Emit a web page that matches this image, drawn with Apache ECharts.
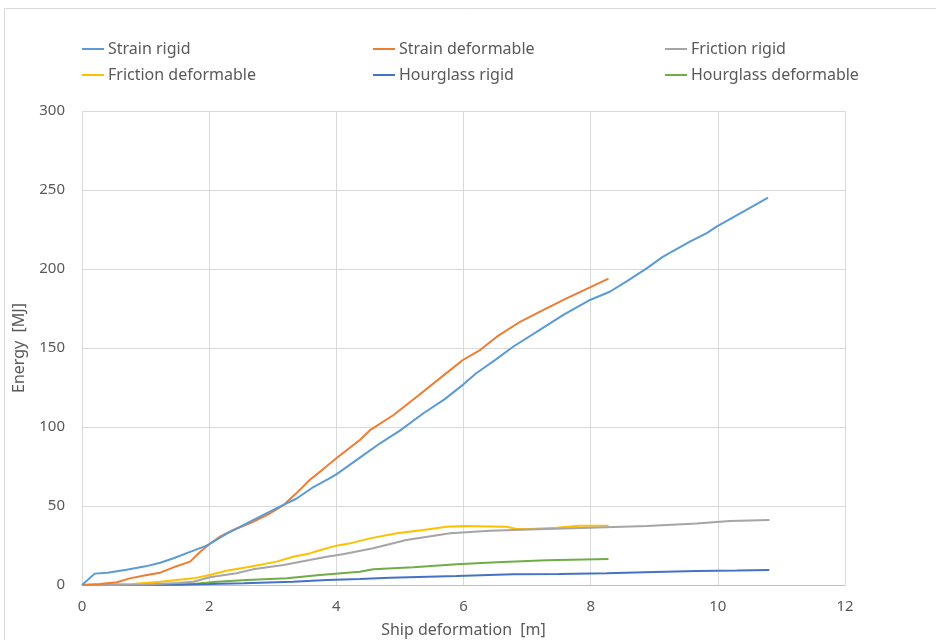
<!DOCTYPE html>
<html>
<head>
<meta charset="utf-8">
<script src="https://cdn.jsdelivr.net/npm/echarts@6/dist/echarts.min.js"></script>
<style>
  html, body { margin: 0; padding: 0; background: #fff; }
  #chart { width: 936px; height: 640px; }
</style>
</head>
<body>
<div id="chart"></div>
<script>
// Energy curves, [ship deformation m, energy MJ]
const strainRigid = [
  [0, 0], [0.2, 7.2], [0.4, 7.8], [0.7, 9.6], [1.0, 11.8], [1.23, 14.1], [1.44, 16.9],
  [1.7, 21], [1.96, 24.9], [2.27, 32.3], [2.69, 41], [3.11, 49.6], [3.37, 54.6],
  [3.64, 62], [3.87, 67], [4.0, 70], [4.42, 82], [4.7, 90], [5.0, 97.7], [5.37, 108.7],
  [5.7, 117.5], [6.0, 127], [6.2, 134], [6.5, 142.5], [6.78, 150.8], [7.2, 161.5],
  [7.57, 171], [7.99, 180.4], [8.3, 185.6], [8.56, 192], [8.88, 200.4], [9.14, 207.8],
  [9.56, 217.3], [9.82, 222.6], [9.98, 226.8], [10.4, 236.3], [10.79, 245.1]
];
const strainDeformable = [
  [0, 0], [0.28, 0.6], [0.55, 1.7], [0.75, 4.2], [1.02, 6.3], [1.23, 7.8], [1.44, 11.2],
  [1.7, 14.8], [1.86, 21], [1.99, 25.3], [2.17, 30.6], [2.38, 34.8], [2.69, 40],
  [2.96, 45.4], [3.17, 50.6], [3.37, 58], [3.58, 66.5], [3.79, 73.2], [4.0, 80.2],
  [4.37, 91.8], [4.53, 98], [4.9, 107.6], [5.26, 119], [5.79, 136], [5.99, 142.4],
  [6.26, 148.7], [6.52, 157], [6.89, 166.6], [7.25, 174], [7.62, 181.4], [7.99, 188.4],
  [8.28, 193.9]
];
const frictionRigid = [
  [0, 0], [1.0, 0.3], [1.5, 1.2], [1.75, 2.1], [2.01, 4.9], [2.43, 7.4], [2.69, 9.9],
  [3.17, 12.7], [3.58, 15.8], [3.85, 17.9], [4.1, 19.5], [4.58, 23.2], [5.1, 28.5],
  [5.79, 32.7], [6.42, 34.4], [7.04, 35.2], [7.99, 36.3], [8.88, 37.3], [9.67, 39],
  [10.19, 40.5], [10.81, 41.1]
];
const frictionDeformable = [
  [0, 0], [0.8, 0.6], [1.23, 2.1], [1.49, 3.2], [1.75, 4.2], [2.01, 6.3], [2.27, 9],
  [2.64, 11.6], [3.06, 14.8], [3.32, 17.9], [3.58, 20], [3.74, 22], [4.0, 24.9],
  [4.2, 26.2], [4.53, 29.5], [4.95, 32.7], [5.37, 34.8], [5.73, 36.9], [6.0, 37.3],
  [6.68, 36.9], [6.83, 35.4], [7.04, 35.4], [7.46, 36.3], [7.83, 37.5], [8.28, 37.5]
];
const hourglassRigid = [
  [0, 0], [1.5, 0.2], [2.0, 0.6], [2.54, 1.1], [3.32, 2.1], [3.85, 3.2], [4.37, 3.8],
  [4.84, 4.6], [5.89, 5.7], [6.78, 6.8], [7.5, 7.0], [8.25, 7.4], [9.0, 8.2],
  [9.67, 8.9], [10.3, 9.1], [10.81, 9.5]
];
const hourglassDeformable = [
  [0, 0], [1.2, 0.2], [1.75, 0.6], [2.12, 2.1], [2.59, 3.2], [3.22, 4.2], [3.74, 6.3],
  [4.37, 8.4], [4.58, 9.9], [5.21, 11.2], [5.89, 13.1], [6.52, 14.4], [7.31, 15.6],
  [8.28, 16.5]
];

const seriesNames = [
  'Strain rigid', 'Strain deformable', 'Friction rigid',
  'Friction deformable', 'Hourglass rigid', 'Hourglass deformable'
];
const seriesData = [
  strainRigid, strainDeformable, frictionRigid,
  frictionDeformable, hourglassRigid, hourglassDeformable
];
const seriesColors = ['#5B9BD5', '#ED7D31', '#A5A5A5', '#FFC000', '#4472C4', '#70AD47'];

const FONT = 'Noto Sans';
const TEXT = '#595959';

// One legend per entry so the entries sit on a fixed 3-column grid
const legendCols = [82, 373, 665];
const legendRows = [41, 67];
const legends = seriesNames.map((name, i) => ({
  data: [name],
  left: legendCols[i % 3],
  top: legendRows[Math.floor(i / 3)],
  icon: 'rect',
  itemWidth: 22,
  itemHeight: 2,
  itemGap: 4,
  textStyle: { color: TEXT, fontSize: 16, fontFamily: FONT, padding: [0, 0, 0, -1] },
  padding: 0
}));

const chart = echarts.init(document.getElementById('chart'));
chart.setOption({
  animation: false,
  backgroundColor: '#fff',
  legend: legends,
  graphic: [{
    type: 'rect',
    shape: { x: 4.5, y: 8.5, width: 960, height: 700 },
    style: { fill: 'none', stroke: '#D9D9D9', lineWidth: 1 },
    silent: true
  }],
  grid: { left: 82, right: 91, top: 111, bottom: 55, containLabel: false, outerBoundsMode: 'none' },
  xAxis: {
    type: 'value',
    min: 0, max: 12, interval: 2,
    name: 'Ship deformation  [m]',
    nameLocation: 'middle',
    nameGap: 37,
    nameTextStyle: { color: TEXT, fontSize: 16, fontFamily: FONT },
    axisLine: { show: true, lineStyle: { color: '#BFBFBF', width: 1 } },
    axisTick: { show: false },
    axisLabel: { color: TEXT, fontSize: 15, fontFamily: FONT, margin: 14 },
    splitLine: { show: true, lineStyle: { color: '#D9D9D9', width: 1 } }
  },
  yAxis: {
    type: 'value',
    min: 0, max: 300, interval: 50,
    name: 'Energy  [MJ]',
    nameLocation: 'middle',
    nameGap: 55,
    nameTextStyle: { color: TEXT, fontSize: 16, fontFamily: FONT },
    axisLine: { show: false },
    axisTick: { show: false },
    axisLabel: { color: TEXT, fontSize: 15, fontFamily: FONT, margin: 17 },
    splitLine: { show: true, lineStyle: { color: '#D9D9D9', width: 1 } }
  },
  series: seriesNames.map((name, i) => ({
    name: name,
    type: 'line',
    data: seriesData[i],
    showSymbol: false,
    symbol: 'none',
    lineStyle: { color: seriesColors[i], width: 2 },
    itemStyle: { color: seriesColors[i] },
    z: 10 - i
  }))
});
</script>
</body>
</html>
